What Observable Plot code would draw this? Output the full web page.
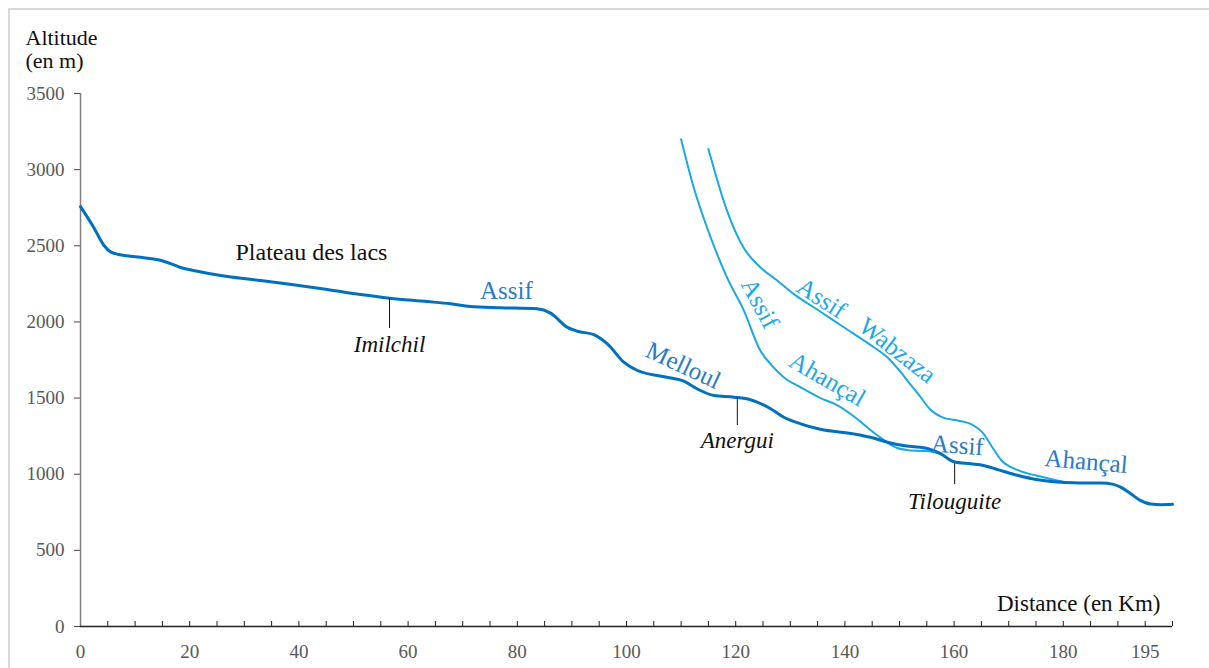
<!DOCTYPE html>
<html><head><meta charset="utf-8">
<script src="https://cdn.jsdelivr.net/npm/d3@7"></script>
<script src="https://cdn.jsdelivr.net/npm/@observablehq/plot@0.6"></script>
<style>
html,body{margin:0;padding:0;background:#fff;overflow:hidden;}
#wrap{position:relative;width:1209px;height:668px;overflow:hidden;}
#frame{position:absolute;left:8px;top:8px;width:1240px;height:700px;border:2px solid #d9d9d9;box-sizing:border-box;}
#chart{position:absolute;left:0;top:0;}
#chart svg, #chart svg text{font-family:"Liberation Serif","Times New Roman",serif !important;}
</style></head><body>
<div id="wrap"><div id="frame"></div><div id="chart"></div></div>
<script>
// Assif Melloul (main river)
const mainKm  = [0, 2.4, 4.3, 5.5, 7, 8.5, 11.6, 14.6, 16.5, 18.5, 20.7, 23.5, 26.9, 33, 39, 45.2, 51.3, 56.6, 63.5, 67.8, 71.4, 76.9, 83.6, 86.1, 89.1, 91, 94, 96.5, 99.5, 102, 107.4, 110.5, 112.9, 116, 119.7, 122.7, 126.4, 128.8, 131.9, 135.5, 141.6, 144.7, 147.8, 150.7, 153.8, 155.5, 157.5, 160, 163, 165.4, 168, 171.6, 175, 179.5, 183, 187, 189, 190.5, 192.3, 194, 196, 198, 200];
const mainAlt = [2757, 2622, 2502, 2460, 2443, 2435, 2422, 2405, 2383, 2356, 2338, 2318, 2298, 2272, 2244, 2213, 2180, 2156, 2134, 2119, 2101, 2093, 2086, 2058, 1966, 1939, 1917, 1856, 1736, 1681, 1637, 1611, 1561, 1517, 1506, 1489, 1430, 1374, 1331, 1295, 1265, 1243, 1210, 1188, 1177, 1165, 1135, 1082, 1068, 1057, 1030, 993, 965, 947, 943, 942, 935, 915, 873, 830, 804, 800, 802];
// Assif Ahançal (tributary)
const ahKm  = [110, 112.3, 115.4, 118.4, 121.5, 124.5, 126.6, 128.8, 131.9, 135.5, 138.5, 142.2, 144.7, 146.5, 148, 149.6, 151.5, 153.8, 156, 157.5];
const ahAlt = [3200, 2884, 2556, 2293, 2074, 1812, 1715, 1637, 1571, 1500, 1455, 1364, 1290, 1240, 1203, 1172, 1158, 1153, 1148, 1135];
// Assif Wabzaza (tributary)
const wbKm  = [115, 118.4, 121.4, 124.5, 127.6, 130.6, 135.2, 139.8, 144.4, 148, 150, 152, 153.8, 155.5, 158, 161, 163, 165.4, 167, 168.7, 171.6, 176.4, 180];
const wbAlt = [3135, 2731, 2490, 2359, 2272, 2184, 2075, 1965, 1856, 1760, 1680, 1590, 1510, 1430, 1372, 1350, 1330, 1265, 1177, 1090, 1028, 980, 950];

// ticks
const yTicks = [0, 500, 1000, 1500, 2000, 2500, 3000, 3500];
const xLabelTicks = [0, 20, 40, 60, 80, 100, 120, 140, 160, 180, 195];
const xMinorTicks = d3.range(0, 201, 5);

// river name labels
const riverText = ["Assif", "Melloul", "Assif", "Ahançal", "Assif", "Wabzaza", "Assif", "Ahançal"];
const riverKm   = [78.0, 110.4, 124.4, 136.8, 135.7, 149.6, 160.6, 184.2];
const riverAlt  = [2206, 1714, 2121, 1622, 2154, 1812, 1189, 1083];
const riverRot  = [0, 25, 62, 30, 33, 38, 4, 5];
const riverTone = ["dark", "dark", "light", "light", "light", "light", "dark", "dark"];
// place labels
const placeText = ["Imilchil", "Anergui", "Tilouguite"];
const placeKm   = [56.6, 120.3, 160.1];
const placeAlt  = [1852, 1221, 821];
const leaderTop = [2154, 1504, 1070];
const leaderBot = [1957, 1320, 932];
const plateauText = ["Plateau des lacs"];
const plateauKm = [42.3];
const plateauAlt = [2456];

const DARK = "#0070C0", LIGHT = "#1BA8E6";
const DARK_TXT = "#2a7bc8";
const SERIF = "Liberation Serif";

const pts = (k, a) => k.map((v, i) => ({km: v, alt: a[i]}));
const main = pts(mainKm, mainAlt), ah = pts(ahKm, ahAlt), wb = pts(wbKm, wbAlt);
const rivers = riverText.map((t, i) => ({t, km: riverKm[i], alt: riverAlt[i], rot: riverRot[i], c: riverTone[i] === "dark" ? DARK_TXT : LIGHT}));
const places = placeText.map((t, i) => ({t, km: placeKm[i], alt: placeAlt[i], top: leaderTop[i], bot: leaderBot[i]}));
const plateau = plateauText.map((t, i) => ({t, km: plateauKm[i], alt: plateauAlt[i]}));

const chart = Plot.plot({
  width: 1209, height: 668,
  marginLeft: 80, marginRight: 37, marginTop: 93, marginBottom: 42,
  style: {fontFamily: SERIF, background: "transparent"},
  x: {domain: [0, 200]},
  y: {domain: [0, 3500]},
  marks: [
    Plot.axisY({ticks: yTicks, tickSize: 6, tickPadding: 10, fontSize: 19, fontFamily: SERIF, fill: "#595959", stroke: "#444", tickFormat: d => String(d), label: null}),
    Plot.axisX({ticks: xMinorTicks, tickSize: 5, dy: -5, text: null, label: null, stroke: "#222"}),
    Plot.axisX({ticks: xLabelTicks, tickSize: 0, tickPadding: 18, fontSize: 19, fontFamily: SERIF, fill: "#595959", tickFormat: d => String(d), label: null}),
    Plot.ruleX([0], {stroke: "#7f7f7f", strokeWidth: 1.5}),
    Plot.ruleY([0], {stroke: "#222", strokeWidth: 1.5}),
    Plot.line(ah, {x: "km", y: "alt", stroke: LIGHT, strokeWidth: 2, curve: "monotone-x"}),
    Plot.line(wb, {x: "km", y: "alt", stroke: LIGHT, strokeWidth: 2, curve: "monotone-x"}),
    Plot.line(main, {x: "km", y: "alt", stroke: DARK, strokeWidth: 3, curve: "monotone-x"}),
    Plot.ruleX(places, {x: "km", y1: "top", y2: "bot", stroke: "#111", strokeWidth: 1}),
    Plot.text(places, {x: "km", y: "alt", text: "t", fontSize: 23, fontFamily: SERIF, fontStyle: "italic", fill: "#111"}),
    Plot.text(plateau, {x: "km", y: "alt", text: "t", fontSize: 24, fontFamily: SERIF, fill: "#111"}),
    Plot.text(rivers, {x: "km", y: "alt", text: "t", rotate: "rot", fill: "c", fontSize: 25, fontFamily: SERIF}),
    Plot.text(["Altitude\n(en m)"], {text: d => d, frameAnchor: "top-left", dx: -55, dy: -64.6, textAnchor: "start", lineAnchor: "top", lineHeight: 1.05, fontSize: 22, fontFamily: SERIF, fill: "#111"}),
    Plot.text(["Distance (en Km)"], {text: d => d, frameAnchor: "bottom-right", dx: -12, dy: -32, textAnchor: "end", lineAnchor: "top", fontSize: 23, fontFamily: SERIF, fill: "#111"})
  ]
});
document.getElementById("chart").appendChild(chart);
</script>
</body></html>
